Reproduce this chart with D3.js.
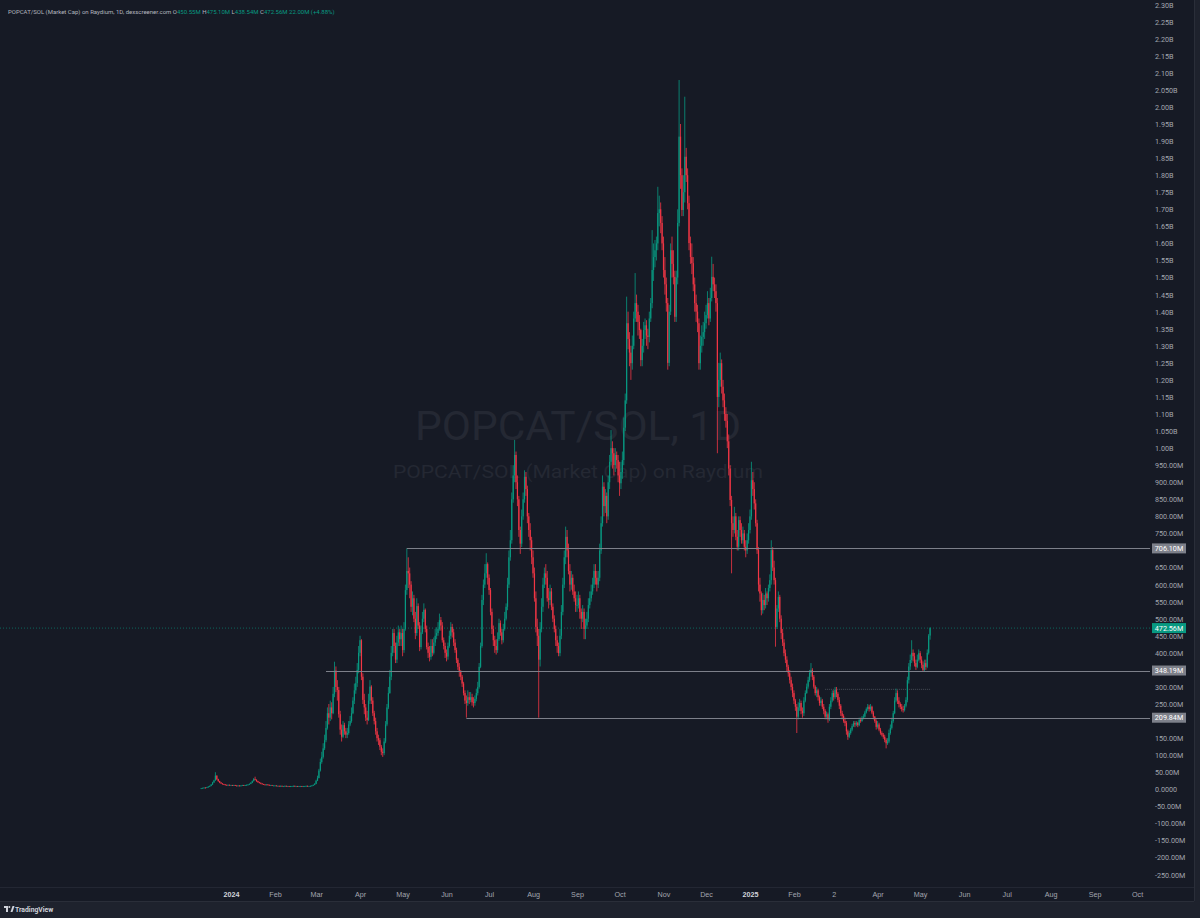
<!DOCTYPE html>
<html><head><meta charset="utf-8">
<script src="https://cdn.jsdelivr.net/npm/d3@7"></script>
<style>
html,body{margin:0;padding:0;background:#1e222d;overflow:hidden}
svg{display:block;font-family:Roboto,"Noto Sans","DejaVu Sans",sans-serif}
</style></head>
<body><svg id="c" width="1200" height="918"></svg>
<script>
// ---------------- DATA (market cap, millions USD, daily candles) ----------------
const startDate = "2023-12-11";
const firstOpen = 2;
const closeM = [
/*Dec23*/ 3,4,5,4,6,8,10,14,20,26,40,30,24,20,17,15,14,13,12,13,12,
/*Jan24*/ 12,11,12,11,10,11,10,11,12,11,12,13,14,16,19,24,30,28,24,21,19,17,15,14,13,14,13,12,12,11,11,
/*Feb24*/ 11,10,10,9,10,9,9,10,9,9,8,9,9,10,9,9,8,9,9,8,9,9,10,9,9,10,11,13,16,
/*Mar24*/ 25,33,55,80,95,120,144,180,223,210,240,223,280,348,300,291,220,175,154,188,170,160,165,190,200,223,260,290,311,350,400,
/*Apr24*/ 437,330,262,240,210,203,260,301,260,223,200,170,150,144,125,110,106,140,190,240,282,330,400,458,420,380,430,460,440,458,
/*May24*/ 408,470,584,640,633,600,535,560,500,458,537,480,417,460,500,526,470,417,400,388,420,400,430,450,458,470,496,480,437,420,400,
/*Jun24*/ 389,420,450,476,460,430,408,380,359,345,330,310,282,260,253,270,262,270,255,253,265,282,300,359,420,555,600,633,660,620,
/*Jul24*/ 584,520,470,437,420,408,440,487,460,437,470,500,535,600,680,730,850,920,980,900,850,760,720,800,850,916,880,800,760,730,680,
/*Aug24*/ 633,560,476,450,380,470,535,600,633,620,560,555,580,535,500,470,437,420,399,450,520,600,680,740,700,640,600,620,580,560,540,
/*Sep24*/ 540,560,520,500,520,470,480,500,540,560,580,600,640,620,600,620,700,780,887,830,860,800,900,960,1000,985,950,980,965,920,
/*Oct24*/ 897,930,965,1060,1140,1366,1320,1280,1249,1300,1380,1425,1400,1370,1346,1258,1300,1346,1360,1330,1326,1380,1425,1522,1560,1580,1600,1689,1700,1660,1600,
/*Nov24*/ 1522,1480,1425,1250,1400,1580,1540,1502,1385,1500,1660,1913,1800,1698,1750,1854,1800,1718,1601,1560,1542,1480,1425,1400,1366,1249,1300,1326,1340,1366,
/*Dec24*/ 1390,1425,1380,1440,1502,1480,1460,1425,1150,1200,1249,1180,1140,1100,1080,1020,940,848,780,760,800,740,711,789,760,730,750,711,700,730,760,
/*Jan25*/ 800,906,880,838,780,701,600,574,525,555,540,574,560,590,613,701,650,613,476,530,564,500,458,430,399,380,359,340,320,300,282,
/*Feb25*/ 260,242,213,240,253,230,223,260,282,301,320,341,350,330,301,282,290,270,253,260,242,230,213,220,205,242,260,282,
/*Mar25*/ 270,291,280,262,245,223,215,200,194,170,154,165,175,185,194,190,195,188,203,200,210,213,225,235,242,235,242,225,213,200,183,
/*Apr25*/ 190,175,165,160,154,145,135,140,165,180,200,223,260,282,260,250,242,235,232,245,262,320,360,379,400,390,370,359,380,399,
/*May25*/ 380,365,350,370,359,400,450.56,472.56
];
const highM = [
/*Dec23*/ 4,5,6,6,7,9,11,15,22,28,50,41,31,25,21,18,16,15,14,14,14,
/*Jan24*/ 13,13,13,13,12,12,12,12,13,13,13,14,15,17,21,26,33,37,29,25,22,20,18,16,15,15,15,14,13,13,12,
/*Feb24*/ 12,12,11,11,11,11,10,11,11,10,10,10,10,11,11,10,10,10,10,10,10,10,11,11,10,11,12,14,18,
/*Mar24*/ 28,40,60,90,110,135,160,200,240,250,260,255,300,374,360,320,300,230,190,200,195,180,180,200,215,240,270,310,330,370,420,
/*Apr24*/ 450,440,340,280,250,230,280,320,305,270,230,210,180,160,150,130,120,150,200,250,300,350,420,470,470,430,450,480,470,480,
/*May24*/ 470,490,600,706,680,650,610,580,570,520,560,545,490,480,520,545,530,480,430,420,440,440,445,470,475,490,515,505,490,445,430,
/*Jun24*/ 410,430,465,490,485,470,440,415,385,370,350,335,315,290,275,290,285,285,280,270,275,295,315,370,430,570,615,660,692,665,
/*Jul24*/ 630,590,530,480,450,440,460,500,495,470,485,520,545,620,700,760,870,950,1024,990,920,860,770,820,870,935,930,890,810,780,740,
/*Aug24*/ 700,650,580,500,470,490,560,620,650,660,640,590,600,590,545,510,480,450,430,470,540,620,700,770,760,720,660,640,630,600,580,
/*Sep24*/ 570,580,570,530,540,530,500,520,560,580,600,620,660,660,640,640,720,800,920,900,880,870,920,980,1053,1020,1000,1000,990,980,
/*Oct24*/ 960,960,990,1090,1160,1444,1400,1340,1300,1330,1400,1513,1450,1420,1390,1350,1320,1370,1380,1375,1350,1400,1440,1639,1600,1610,1620,1766,1740,1720,1680,
/*Nov24*/ 1620,1560,1500,1440,1420,1600,1620,1580,1520,1520,1700,2079,1950,1820,1800,2030,1880,1820,1740,1620,1600,1560,1500,1450,1420,1380,1330,1360,1370,1400,
/*Dec24*/ 1420,1460,1440,1470,1561,1540,1500,1480,1440,1250,1280,1260,1200,1160,1120,1100,1040,950,860,800,828,810,760,800,800,780,770,760,730,750,780,
/*Jan25*/ 820,960,930,900,850,790,710,620,580,575,570,590,580,600,630,730,710,670,620,540,580,570,510,470,440,410,390,365,350,330,310,
/*Feb25*/ 290,265,250,255,265,260,240,270,290,310,330,350,370,355,335,305,300,295,275,270,265,250,235,228,225,250,270,290,
/*Mar25*/ 290,300,300,285,270,250,230,220,210,200,175,172,180,192,200,200,200,198,210,210,215,220,230,240,250,248,250,245,230,215,205,
/*Apr25*/ 200,195,180,170,165,160,150,150,175,190,210,230,270,295,290,270,255,250,245,250,270,330,370,395,437,410,400,380,395,410,
/*May25*/ 405,390,375,380,380,410,455,475.10
];
const lowM = [
/*Dec23*/ 2,3,3,3,4,5,7,9,13,19,25,27,22,18,16,14,13,12,11,11,11,
/*Jan24*/ 11,10,10,10,9,9,9,9,10,10,10,11,12,13,15,18,23,26,22,19,17,15,14,13,12,12,12,11,11,10,10,
/*Feb24*/ 10,9,9,8,8,8,8,8,8,8,7,7,8,8,8,8,7,7,8,7,7,8,8,8,8,8,9,10,12,
/*Mar24*/ 15,24,32,52,75,90,115,138,175,190,200,205,220,270,285,260,210,160,140,150,160,150,150,160,185,195,220,250,280,300,340,
/*Apr24*/ 390,320,250,220,200,190,200,250,250,215,190,160,140,130,115,100,95,100,135,185,235,280,320,390,400,370,370,420,420,420,
/*May24*/ 390,400,465,570,590,560,520,510,490,440,450,470,405,410,455,490,460,410,385,375,380,390,395,420,440,450,465,465,430,410,385,
/*Jun24*/ 375,380,415,440,445,420,400,370,350,330,320,300,275,250,210,245,250,255,245,240,245,258,275,295,355,415,540,590,620,600,
/*Jul24*/ 570,510,455,420,400,395,400,435,450,425,430,465,495,525,590,670,720,840,900,880,830,740,690,710,790,840,860,780,740,700,660,
/*Aug24*/ 620,550,460,420,210,360,460,520,590,600,550,530,540,525,490,460,420,400,390,390,440,510,590,660,680,630,580,585,570,550,520,
/*Sep24*/ 520,530,500,470,490,440,440,470,490,530,550,570,590,600,580,590,610,690,770,800,810,780,790,880,950,940,920,930,940,900,
/*Oct24*/ 860,880,910,950,1050,1130,1290,1240,1200,1230,1290,1370,1370,1330,1320,1240,1240,1280,1320,1300,1290,1310,1370,1410,1490,1530,1550,1580,1650,1630,1580,
/*Nov24*/ 1500,1450,1400,1230,1240,1390,1500,1480,1370,1370,1480,1650,1760,1680,1680,1720,1780,1700,1580,1540,1510,1460,1400,1370,1340,1230,1230,1280,1300,1320,
/*Dec24*/ 1350,1380,1360,1370,1430,1460,1440,1400,985,1120,1180,1160,1120,1080,1060,1000,920,830,633,740,750,730,700,700,740,720,720,700,680,690,720,
/*Jan25*/ 750,790,860,820,770,690,580,550,510,515,525,530,540,550,580,600,640,600,418,470,520,490,440,420,390,370,345,330,310,290,270,
/*Feb25*/ 250,230,165,205,230,220,210,215,255,280,295,315,330,320,295,275,270,260,245,245,235,220,205,205,195,200,235,255,
/*Mar25*/ 260,265,270,255,235,215,205,195,185,160,145,150,160,170,183,182,185,182,185,195,198,205,210,222,230,228,230,220,205,195,175,
/*Apr25*/ 178,170,160,155,148,138,120,130,135,160,175,195,220,255,250,240,235,228,225,228,240,255,310,350,370,375,360,350,355,375,
/*May25*/ 370,355,345,345,350,355,395,438.54
];

// price-scale tick labels (right axis)
const yTickLabels = ["2.30B","2.25B","2.20B","2.15B","2.10B","2.050B","2.00B","1.95B","1.90B","1.85B","1.80B","1.75B","1.70B","1.65B","1.60B","1.55B","1.50B","1.45B","1.40B","1.35B","1.30B","1.25B","1.20B","1.15B","1.10B","1.050B","1.00B","950.00M","900.00M","850.00M","800.00M","750.00M","700.00M","650.00M","600.00M","550.00M","500.00M","450.00M","400.00M","350.00M","300.00M","250.00M","200.00M","150.00M","100.00M","50.00M","0.0000","-50.00M","-100.00M","-150.00M","-200.00M","-250.00M"];
// labels covered by the highlighted price boxes
const yHiddenLabels = ["700.00M","350.00M","200.00M"];

// time-scale tick labels
const xTickDates = ["2024-01-01","2024-02-01","2024-03-01","2024-04-01","2024-05-01","2024-06-01","2024-07-01","2024-08-01","2024-09-01","2024-10-01","2024-11-01","2024-12-01","2025-01-01","2025-02-01","2025-03-01","2025-04-01","2025-05-01","2025-06-01","2025-07-01","2025-08-01","2025-09-01","2025-10-01"];
const xTickLabels = ["2024","Feb","Mar","Apr","May","Jun","Jul","Aug","Sep","Oct","Nov","Dec","2025","Feb","2","Apr","May","Jun","Jul","Aug","Sep","Oct"];

// horizontal levels
const levelValues = [706.10, 348.19, 209.84];
const levelLabels = ["706.10M","348.19M","209.84M"];
const levelStarts = ["2024-05-04","2024-03-08","2024-06-15"];
const faintLevel = {value: 293, from: "2025-02-23", to: "2025-05-08"};

// last price / header
const lastPrice = 472.56, lastLabel = "472.56M";
const headerTitle = "POPCAT/SOL (Market Cap) on Raydium, 1D, dexscreener.com";
const headerKeys = ["O","H","L","C"];
const headerVals = ["450.55M","475.10M","438.54M","472.56M"];
const headerChange = "22.00M (+4.88%)";

// ---------------- DRAW ----------------
const W = 1200, H = 918;
const plotR = 1150, plotB = 887, panelR = 1194, panelB = 901;
const BG = "#161a25", UP = "#089981", DN = "#f23645";
const svg = d3.select("#c");

svg.append("rect").attr("width", W).attr("height", H).attr("fill", "#1e222d");
svg.append("rect").attr("width", panelR).attr("height", panelB).attr("fill", BG);

const x = d3.scaleUtc()
  .domain([new Date(Date.UTC(2024,0,1)), new Date(Date.UTC(2025,0,1))])
  .range([231, 750]);
const y = d3.scaleLinear().domain([-250, 2300]).range([874.6, 4.6]);
const pd = s => new Date(s + "T00:00:00Z");

// watermark
svg.append("text").attr("x", 578).attr("y", 440).attr("text-anchor", "middle")
  .attr("font-size", 40).attr("fill", "#242833").attr("textLength", 326).attr("lengthAdjust","spacingAndGlyphs")
  .text("POPCAT/SOL, 1D");
svg.append("text").attr("x", 578).attr("y", 478).attr("text-anchor", "middle")
  .attr("font-size", 19).attr("fill", "#242833").attr("textLength", 370).attr("lengthAdjust","spacingAndGlyphs")
  .text("POPCAT/SOL (Market Cap) on Raydium");

const plot = svg.append("g");
svg.append("clipPath").attr("id","pc").append("rect").attr("width", plotR).attr("height", plotB);
plot.attr("clip-path","url(#pc)");

// last price dotted line
plot.append("line").attr("x1", 0).attr("x2", plotR).attr("y1", y(lastPrice)).attr("y2", y(lastPrice))
  .attr("stroke", UP).attr("stroke-width", 1).attr("stroke-dasharray", "1,2").attr("opacity", 0.6);

// faint level
plot.append("line").attr("x1", x(pd(faintLevel.from))).attr("x2", x(pd(faintLevel.to)))
  .attr("y1", y(faintLevel.value)).attr("y2", y(faintLevel.value))
  .attr("stroke", "#4a4e59").attr("stroke-width", 1).attr("stroke-dasharray","1,1");

// candles
const n = Math.min(closeM.length, highM.length, lowM.length);
const t0 = pd(startDate).getTime();
const candles = [];
for (let i = 0; i < n; i++) {
  const o = i === 0 ? firstOpen : closeM[i-1];
  const c = closeM[i];
  candles.push({d: new Date(t0 + i*86400000), o, c, h: Math.max(highM[i], o, c), l: Math.min(lowM[i], o, c)});
}
const cg = plot.append("g");
cg.selectAll("line.w").data(candles).join("line").attr("class","w")
  .attr("x1", d => x(d.d)).attr("x2", d => x(d.d))
  .attr("y1", d => y(d.h)).attr("y2", d => y(d.l))
  .attr("stroke", d => d.c >= d.o ? UP : DN).attr("stroke-width", 0.8);
cg.selectAll("rect.b").data(candles).join("rect").attr("class","b")
  .attr("x", d => x(d.d) - 0.6).attr("width", 1.2)
  .attr("y", d => y(Math.max(d.o, d.c)))
  .attr("height", d => Math.max(0.8, Math.abs(y(d.o) - y(d.c))))
  .attr("fill", d => d.c >= d.o ? UP : DN);

// horizontal levels
levelValues.forEach((v, i) => {
  plot.append("line").attr("x1", x(pd(levelStarts[i]))).attr("x2", plotR)
    .attr("y1", Math.round(y(v)) + 0.5).attr("y2", Math.round(y(v)) + 0.5)
    .attr("stroke", "#7d808a").attr("stroke-width", 1);
});

// separators
svg.append("line").attr("x1", 0).attr("x2", panelR).attr("y1", plotB + 0.5).attr("y2", plotB + 0.5).attr("stroke", "#232733");
svg.append("line").attr("x1", panelR + 0.5).attr("x2", panelR + 0.5).attr("y1", 0).attr("y2", panelB).attr("stroke", "#2a2e39");
svg.append("line").attr("x1", 0).attr("x2", panelR).attr("y1", panelB + 0.5).attr("y2", panelB + 0.5).attr("stroke", "#2a2e39");

// right axis
const parseLbl = s => {
  const m = s.match(/^(-?[\d.]+)([MB]?)$/);
  const v = parseFloat(m[1]);
  return m[2] === "B" ? v * 1000 : v;
};
const yVals = yTickLabels.map(parseLbl);
const lblMap = new Map(yVals.map((v, i) => [v, yTickLabels[i]]));
const ay = svg.append("g").attr("transform", `translate(${1155},0)`)
  .call(d3.axisRight(y).tickValues(yVals.filter((v,i)=>!yHiddenLabels.includes(yTickLabels[i])))
    .tickFormat(v => lblMap.get(v)).tickSize(0).tickPadding(0));
ay.select(".domain").remove();
ay.selectAll("text").attr("font-size", 7.2).attr("fill", "#a3a6af").attr("font-family", "Roboto, sans-serif").attr("dy","0.34em");

// price label boxes
const boxes = levelValues.map((v, i) => ({v, t: levelLabels[i], fill: "#7d808a"}));
boxes.push({v: lastPrice, t: lastLabel, fill: UP});
boxes.forEach(b => {
  const cy = y(b.v);
  svg.append("rect").attr("x", 1152).attr("y", cy - 5).attr("width", 34).attr("height", 10).attr("fill", b.fill);
  svg.append("text").attr("x", 1169).attr("y", cy).attr("dy","0.35em").attr("text-anchor","middle")
    .attr("font-size", 7.2).attr("fill", "#ffffff").text(b.t);
});

// time axis
const xDates = xTickDates.map(pd);
const xMap = new Map(xDates.map((d, i) => [d.getTime(), xTickLabels[i]]));
const ax = svg.append("g").attr("transform", `translate(0,${894})`)
  .call(d3.axisBottom(x).tickValues(xDates).tickFormat(d => xMap.get(d.getTime())).tickSize(0).tickPadding(0));
ax.select(".domain").remove();
ax.selectAll("text").attr("font-size", 7.2).attr("dy", "0.35em")
  .attr("fill", d => /^\d{4}$/.test(xMap.get(d.getTime())) ? "#d1d4dc" : "#a3a6af")
  .attr("font-weight", d => /^\d{4}$/.test(xMap.get(d.getTime())) ? "bold" : "normal");

// header legend
const hdr = svg.append("text").attr("x", 8).attr("y", 11.8).attr("dy","0.35em").attr("font-size", 6);
hdr.append("tspan").attr("fill", "#b2b5be").text(headerTitle + "  ");
headerKeys.forEach((k, i) => {
  hdr.append("tspan").attr("fill", "#b2b5be").text(k);
  hdr.append("tspan").attr("fill", UP).text(headerVals[i] + "  ");
});
hdr.append("tspan").attr("fill", UP).text(headerChange);

// TradingView logo
const lg = svg.append("g").attr("transform","translate(4,906)");
lg.append("path").attr("d","M0,0 H4 V6 H2 V2 H0 Z").attr("fill","#d1d4dc");
lg.append("circle").attr("cx",5.3).attr("cy",1).attr("r",1).attr("fill","#d1d4dc");
lg.append("path").attr("d","M6.5,6 L8.5,0 H10.5 L8.5,6 Z").attr("fill","#d1d4dc");
svg.append("text").attr("x", 15).attr("y", 909.5).attr("dy","0.35em").attr("font-size", 6.8)
  .attr("font-weight","bold").attr("fill","#d1d4dc").text("TradingView");
</script></body></html>
